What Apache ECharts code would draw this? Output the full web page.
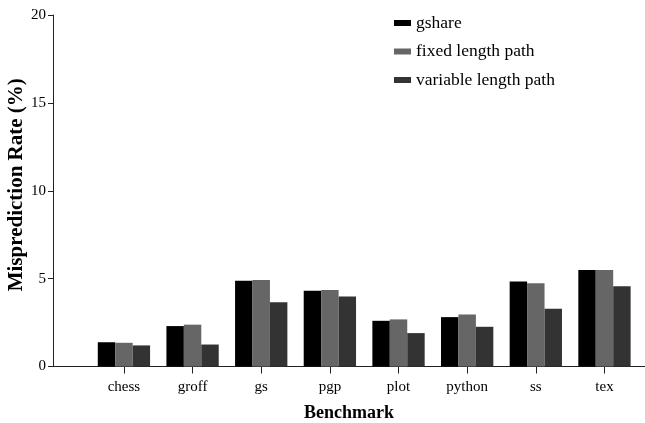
<!DOCTYPE html>
<html>
<head>
<meta charset="utf-8">
<script src="https://cdn.jsdelivr.net/npm/echarts@6/dist/echarts.min.js"></script>
<style>html,body{margin:0;padding:0;background:#fff}#c{width:645px;height:423px}</style>
</head>
<body>
<div id="c"></div>
<script>
const categories = ['chess','groff','gs','pgp','plot','python','ss','tex'];
const seriesNames = ['gshare','fixed length path','variable length path'];
const gshare = [1.38, 2.30, 4.88, 4.31, 2.60, 2.81, 4.84, 5.49];
const fixedPath = [1.35, 2.38, 4.92, 4.35, 2.68, 2.96, 4.73, 5.49];
const variablePath = [1.20, 1.25, 3.66, 3.99, 1.90, 2.26, 3.29, 4.56];
const yTicks = { min: 0, max: 20, interval: 5 };
const colors = ['#000000', '#666666', '#333333'];
const font = 'Liberation Serif';

const chart = echarts.init(document.getElementById('c'));
const values = [gshare, fixedPath, variablePath];
chart.setOption({
  animation: false,
  textStyle: { fontFamily: font },
  legend: {
    orient: 'vertical', left: 389, top: 9,
    itemWidth: 17, itemHeight: 6, itemGap: 10.5,
    icon: 'rect',
    textStyle: { fontFamily: font, fontSize: 17.5, color: '#000' },
    data: seriesNames
  },
  grid: [
    { left: 53, right: 0, top: 15, bottom: 56.5, outerBoundsMode: 'none', containLabel: false },
    { left: 89.6, right: 6.2, top: 15, bottom: 56.5, outerBoundsMode: 'none', containLabel: false }
  ],
  xAxis: [
    { type: 'value', gridIndex: 0, min: 0, max: 1,
      axisLine: { show: true, lineStyle: { color: '#222', width: 1 } },
      axisTick: { show: false }, axisLabel: { show: false }, splitLine: { show: false },
      name: 'Benchmark', nameLocation: 'middle', nameGap: 38, nameMoveOverlap: false,
      nameTextStyle: { fontFamily: font, fontSize: 18, fontWeight: 'bold', color: '#000' } },
    { type: 'category', gridIndex: 1, data: categories,
      axisLine: { show: false },
      axisTick: { show: true, alignWithLabel: true, length: 7, lineStyle: { color: '#222' } },
      axisLabel: { margin: 13, fontFamily: font, fontSize: 15, color: '#000' } }
  ],
  yAxis: [
    { type: 'value', gridIndex: 0, min: yTicks.min, max: yTicks.max, interval: yTicks.interval,
      axisLine: { show: true, lineStyle: { color: '#222', width: 1 } },
      axisTick: { show: true, length: 5, lineStyle: { color: '#222' } },
      axisLabel: { margin: 7, fontFamily: font, fontSize: 15, color: '#000' },
      splitLine: { show: false },
      name: 'Misprediction Rate (%)', nameLocation: 'middle', nameGap: 26, nameMoveOverlap: false,
      nameTextStyle: { fontFamily: font, fontSize: 21, fontWeight: 'bold', color: '#000', padding: [0, 0, 0, 12] } },
    { type: 'value', gridIndex: 1, min: yTicks.min, max: yTicks.max, show: false }
  ],
  series: seriesNames.map((n, i) => ({
    name: n, type: 'bar', xAxisIndex: 1, yAxisIndex: 1,
    data: values[i], barGap: '0%', barCategoryGap: '23.8%',
    itemStyle: { color: colors[i] }
  }))
});
</script>
</body>
</html>
